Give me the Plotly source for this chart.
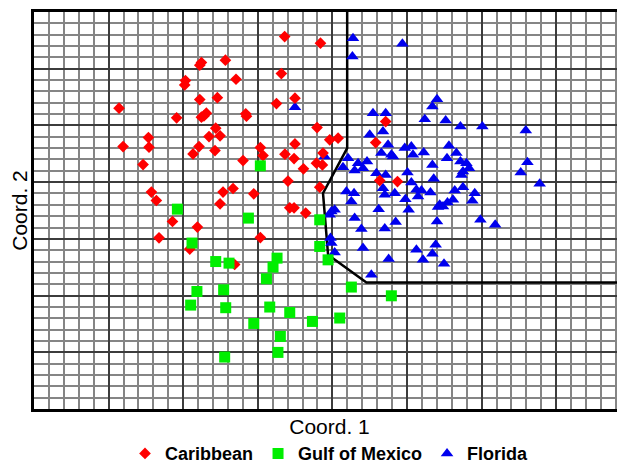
import plotly.graph_objects as go

# Values, in grid-cell units (1 unit = 1 minor grid cell)
carib_x = [16.80, 11.22, 11.11, 12.83, 16.58, 10.15, 10.10, 13.54, 11.11, 12.29,
           16.25, 17.49, 5.70, 9.56, 11.22, 11.55, 11.39, 14.19, 14.24, 12.18,
           11.73, 12.47, 7.67, 5.97, 7.71, 11.06, 12.13, 10.66, 15.17, 15.35,
           17.49, 16.82, 17.43, 14.01, 7.31, 18.06, 18.93, 18.97, 19.20, 17.02,
           7.87, 8.20, 12.67, 13.34, 14.73, 12.47, 17.14, 17.43, 18.21, 19.15,
           9.28, 10.95, 8.38, 15.17, 10.44, 13.45, 23.57, 22.90, 19.82, 20.38,
           19.37, 19.33, 23.17, 24.36]
carib_y = [32.83, 30.54, 30.31, 30.75, 29.57, 28.95, 28.57, 29.07, 27.28, 27.45,
           26.93, 27.40, 26.52, 25.67, 25.73, 26.08, 25.84, 26.02, 25.81, 24.76,
           24.02, 24.08, 23.93, 23.14, 23.08, 23.14, 22.78, 22.49, 23.05, 22.34,
           23.37, 22.47, 22.08, 21.90, 21.55, 21.17, 21.67, 24.81, 32.25, 20.09,
           19.12, 18.38, 19.12, 19.44, 18.97, 18.09, 17.74, 17.74, 17.27, 19.56,
           16.53, 16.04, 15.09, 15.11, 14.10, 12.74, 25.34, 23.49, 23.73, 23.88,
           22.56, 21.52, 20.14, 20.05]

gulf_x = [15.17, 9.61, 14.37, 19.15, 10.59, 12.18, 13.07, 16.29, 16.02, 15.58,
          10.92, 12.71, 10.50, 12.85, 15.80, 17.14, 18.66, 14.73, 16.51, 16.35,
          12.78, 19.15, 19.71, 21.27, 23.95, 20.49]
gulf_y = [21.44, 17.62, 16.83, 16.68, 14.63, 13.00, 12.86, 13.30, 12.51, 11.48,
          10.36, 10.51, 9.16, 8.93, 8.99, 8.51, 7.72, 7.54, 6.40, 4.99,
          4.58, 14.33, 13.15, 10.75, 9.98, 8.02]

flor_x = [17.49, 21.38, 24.69, 21.34, 27.01, 26.70, 22.72, 23.57, 26.19, 27.59,
          28.58, 30.05, 32.96, 22.50, 23.39, 23.73, 23.28, 23.95, 24.06, 24.85,
          25.29, 25.40, 26.12, 27.81, 28.31, 27.68, 26.70, 28.58, 28.98, 29.16,
          28.75, 28.65, 33.07, 32.62, 33.89, 21.05, 20.71, 21.72, 21.49, 22.05,
          22.32, 22.95, 23.57, 25.03, 26.79, 25.29, 19.48, 20.94, 21.45, 21.27,
          23.39, 23.51, 24.18, 25.63, 25.97, 25.74, 26.57, 24.89, 28.75, 28.20,
          28.08, 29.54, 27.71, 27.19, 27.41, 27.08, 29.38, 23.10, 25.11, 19.93,
          20.15, 19.82, 21.49, 21.94, 23.51, 24.24, 27.01, 29.92, 30.91, 19.87,
          19.93, 20.15, 22.05, 23.77, 22.61, 25.63, 26.07, 26.92, 26.70, 27.48]
flor_y = [26.61, 32.69, 32.19, 31.07, 27.31, 26.66, 26.08, 26.08, 25.55, 25.43,
          24.90, 24.90, 24.55, 24.17, 24.46, 23.29, 22.56, 22.41, 22.26, 23.00,
          23.14, 22.41, 22.61, 23.20, 22.56, 22.11, 21.52, 21.81, 21.67, 21.23,
          20.93, 20.64, 21.76, 20.85, 19.85, 22.11, 21.32, 21.67, 21.02, 21.23,
          21.81, 20.79, 20.64, 20.85, 20.29, 19.96, 22.26, 19.17, 19.03, 18.29,
          19.47, 18.88, 19.03, 19.32, 19.26, 18.73, 19.08, 18.50, 19.56, 19.26,
          18.44, 19.03, 18.20, 18.00, 17.85, 17.80, 18.35, 17.62, 17.56, 17.41,
          17.56, 17.12, 16.83, 15.86, 15.91, 16.48, 16.53, 16.68, 16.24, 15.07,
          14.63, 13.80, 14.19, 13.22, 11.83, 14.04, 13.15, 14.48, 13.68, 12.80]

# Decision boundary
bound_x = [20.99, 20.99, 19.37, 19.71, 22.28, 39.61]
bound_y = [35.0, 23.0, 19.03, 13.59, 11.15, 11.15]

series_names = ["Caribbean", "Gulf of Mexico", "Florida"]
x_title = "Coord. 1"
y_title = "Coord. 2"

fig = go.Figure()
fig.add_trace(go.Scatter(x=bound_x, y=bound_y, mode="lines",
                         line=dict(color="black", width=2.5),
                         showlegend=False, hoverinfo="skip"))
fig.add_trace(go.Scatter(x=flor_x, y=flor_y, mode="markers",
                         name="<b>" + series_names[2] + "</b>",
                         marker=dict(symbol="triangle-up", size=11, color="#0000ee"),
                         legendrank=3))
fig.add_trace(go.Scatter(x=carib_x, y=carib_y, mode="markers",
                         name="<b>" + series_names[0] + "</b>",
                         marker=dict(symbol="diamond", size=9, color="#ff0000"),
                         legendrank=1))
fig.add_trace(go.Scatter(x=gulf_x, y=gulf_y, mode="markers",
                         name="<b>" + series_names[1] + "</b>",
                         marker=dict(symbol="square", size=11, color="#00ee00"),
                         legendrank=2))

axis_common = dict(
    showticklabels=False, ticks="", zeroline=False,
    showline=True, mirror=True, linecolor="black", linewidth=2.5,
    showgrid=True, gridcolor="#3c3c3c", gridwidth=2, dtick=5, tick0=0,
    minor=dict(dtick=1, tick0=0, showgrid=True, gridcolor="#858585", gridwidth=1.6),
    fixedrange=True,
)

# The page body adds an 8px margin on the left and top, so the figure is sized 617x455
fig.update_layout(
    width=617, height=455,
    margin=dict(l=26, r=0, t=4, b=54, autoexpand=False),
    paper_bgcolor="white", plot_bgcolor="white",
    font=dict(family="Liberation Sans, Arial, sans-serif", color="black"),
    xaxis=dict(range=[0, 39.61], title=dict(text=x_title, font=dict(size=21), standoff=9),
               **axis_common),
    yaxis=dict(range=[0, 35], title=dict(text=y_title, font=dict(size=21), standoff=4),
               **axis_common),
    legend=dict(orientation="h", x=0.5, xanchor="center", y=-0.1126, yanchor="middle",
                font=dict(size=18, family="Liberation Sans, Arial, sans-serif"),
                itemwidth=30, traceorder="normal", bgcolor="rgba(0,0,0,0)"),
)

fig.write_html("out.html")
